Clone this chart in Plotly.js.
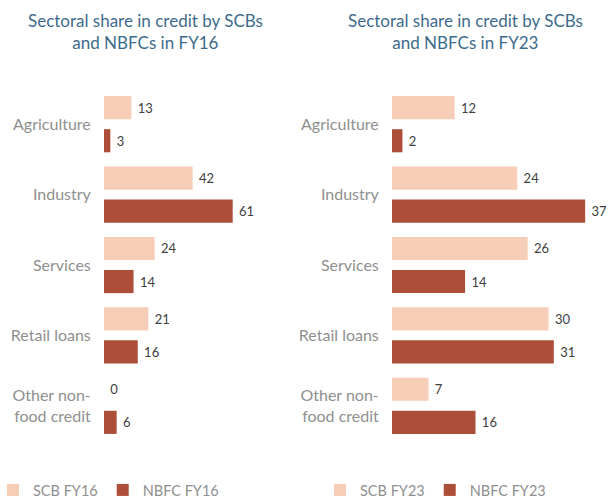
<!DOCTYPE html>
<html>
<head>
<meta charset="utf-8">
<script src="https://cdn.plot.ly/plotly-3.0.1.min.js"></script>
<style>html,body{margin:0;padding:0;background:#fff;}#chart{width:609px;height:498px;}</style>
</head>
<body>
<div id="chart"></div>
<script>
const categories = ["Agriculture", "Industry", "Services", "Retail loans", "Other non-<br>food credit"];
const scbFY16 = [13, 42, 24, 21, 0];
const nbfcFY16 = [3, 61, 14, 16, 6];
const scbFY23 = [12, 24, 26, 30, 7];
const nbfcFY23 = [2, 37, 14, 31, 16];
const titleFY16 = "Sectoral share in credit by SCBs<br>and NBFCs in FY16";
const titleFY23 = "Sectoral share in credit by SCBs<br>and NBFCs in FY23";

const W = 609, H = 498;
const light = "#F6CDB6", dark = "#AD4F38";
const font = "Lato, 'Open Sans', sans-serif";

function bar(name, vals, color, xa, ya, leg) {
  return {
    type: "bar", orientation: "h", name: name,
    x: vals, y: categories, xaxis: xa, yaxis: ya, legend: leg,
    marker: {color: color},
    text: vals.map(v => "\u00a0" + v), textposition: "outside",
    textfont: {family: font, size: 13, color: "#404040"},
    cliponaxis: false, hoverinfo: "skip"
  };
}

const data = [
  bar("SCB FY16", scbFY16, light, "x", "y", "legend"),
  bar("NBFC FY16", nbfcFY16, dark, "x", "y", "legend"),
  bar("SCB FY23", scbFY23, light, "x2", "y2", "legend2"),
  bar("NBFC FY23", nbfcFY23, dark, "x2", "y2", "legend2")
];

const yTop = 89, yBot = 441;
const ydom = [1 - yBot / H, 1 - yTop / H];
const yax = (anchor) => ({
  domain: ydom, anchor: anchor, autorange: "reversed", type: "category",
  automargin: false,
  showgrid: false, zeroline: false, showline: false,
  ticks: "outside", ticklen: 9, tickcolor: "rgba(0,0,0,0)",
  tickfont: {family: font, size: 16, color: "#8F8F8F"}
});
const xax = (dom, range, anchor) => ({
  domain: dom, range: range, anchor: anchor, automargin: false,
  visible: false, showgrid: false, zeroline: false, fixedrange: true
});

const legendBase = {
  orientation: "h", yanchor: "middle", y: 1 - 490 / H, xanchor: "left",
  font: {family: font, size: 14.5, color: "#8F8F8F"},
  bgcolor: "rgba(0,0,0,0)", traceorder: "normal", itemclick: false
};

const layout = {
  width: W, height: H,
  margin: {l: 0, r: 0, t: 0, b: 0, autoexpand: false},
  paper_bgcolor: "#fff", plot_bgcolor: "#fff",
  barmode: "group", bargap: 0.06, bargroupgap: 0.3,
  showlegend: true,
  xaxis: xax([104 / W, 290 / W], [0, 186 / 2.11], "y"),
  yaxis: yax("x"),
  xaxis2: xax([392 / W, 1], [0, 217 / 5.22], "y2"),
  yaxis2: yax("x2"),
  legend: Object.assign({}, legendBase, {x: -7 / W}),
  legend2: Object.assign({}, legendBase, {x: 320 / W}),
  annotations: [
    {text: titleFY16, xref: "paper", yref: "paper", x: 145 / W, y: 1 - 31 / H,
     xanchor: "center", yanchor: "middle", showarrow: false,
     font: {family: font, size: 17, color: "#3D6B8C"}},
    {text: titleFY23, xref: "paper", yref: "paper", x: 465 / W, y: 1 - 31 / H,
     xanchor: "center", yanchor: "middle", showarrow: false,
     font: {family: font, size: 17, color: "#3D6B8C"}}
  ]
};

Plotly.newPlot("chart", data, layout, {displayModeBar: false, staticPlot: true});
</script>
</body>
</html>
